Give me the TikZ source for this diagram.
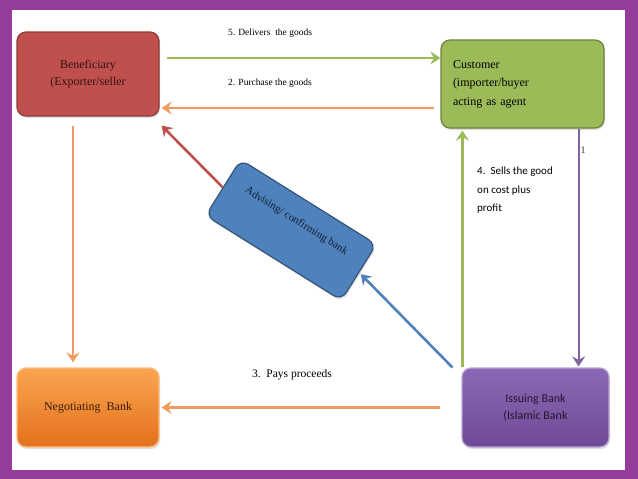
\documentclass[tikz,border=0pt]{standalone}
\usepackage{fontspec}
\setmainfont{Liberation Serif}
\newfontfamily\calib{Carlito}
\usetikzlibrary{arrows.meta,shadows}
\definecolor{slidebg}{RGB}{150,60,155}
\definecolor{benred}{RGB}{192,80,77}
\definecolor{custgreen}{RGB}{155,187,89}
\definecolor{negtop}{RGB}{250,165,80}
\definecolor{negbot}{RGB}{228,112,28}
\definecolor{isstop}{RGB}{140,105,182}
\definecolor{issbot}{RGB}{110,74,150}
\definecolor{advblue}{RGB}{79,129,189}
\definecolor{lineorange}{RGB}{240,155,95}
\definecolor{linegreen}{RGB}{155,187,89}
\definecolor{linered}{RGB}{192,80,77}
\definecolor{lineblue}{RGB}{79,129,189}
\definecolor{linepurple}{RGB}{128,100,162}
\begin{document}
\begin{tikzpicture}[x=1pt, y=-1pt, box/.style={draw, line width=1.2pt, rounded corners=9pt, align=center, font=\fontsize{12}{17}\selectfont, drop shadow={opacity=0.25, shadow xshift=1pt, shadow yshift=-2pt}}, flow/.style={line width=2.6pt, -{Stealth[length=10pt, width=13pt, inset=3.5pt]}}, lbl/.style={font=\fontsize{9.5}{12}\selectfont, inner sep=0pt}]
\useasboundingbox (0,0) rectangle (638,479);
\fill[slidebg] (0,0) rectangle (638,479);
\fill[white] (12,10) rectangle (625,470);
\node[box, fill=benred, draw=benred!75!black, text=benred!25!black, minimum width=142pt, minimum height=84pt] (ben) at (88,74) {Beneficiary\\(Exporter/seller};
\node[box, fill=custgreen, draw=custgreen!70!black, text width=139pt, inner xsep=12pt, align=left, minimum height=88pt, font=\fontsize{12}{18.5}\selectfont] (cust) at (522.5,84) {Customer\\(importer/buyer\\acting as agent};
\node[box, top color=negtop, bottom color=negbot, draw=negtop!70!white, text=negbot!25!black, minimum width=142pt, minimum height=79pt] (neg) at (88,407.5) {Negotiating\ \ Bank};
\node[box, top color=isstop, bottom color=issbot, draw=isstop!60!white, text=issbot!30!black, minimum width=147pt, minimum height=79pt, font=\calib\fontsize{12}{17}\selectfont] (iss) at (535.5,407.5) {Issuing Bank\\(Islamic Bank};
\node[box, fill=advblue, draw=advblue!65!black, text=advblue!25!black, rotate=-32, minimum width=160pt, minimum height=66pt, text depth=23pt, font=\fontsize{11}{13}\selectfont] (adv) at (291,230) {Advising/ confirming bank};
% goods and money
\draw[flow, linegreen, shorten <=7pt] ([yshift=16pt]ben.east) -- ([yshift=26pt]cust.west);
\draw[flow, lineorange, shorten <=6pt, shorten >=2pt] ([yshift=-24pt]cust.west) -- ([yshift=-34pt]ben.east);
\draw[flow, linered] (adv.west) -- ([xshift=2pt, yshift=-9pt]ben.south east);
\draw[flow, lineorange, shorten <=9pt, shorten >=5pt] ([xshift=-15pt]ben.south) -- ([xshift=-15pt]neg.north);
\draw[flow, lineorange, shorten <=21pt, shorten >=2pt] (iss.west) -- (neg.east);
\draw[flow, lineblue, shorten >=2pt] ([xshift=-9pt]iss.north west) -- (adv.east);
\draw[flow, linegreen, shorten >=2pt] ([xshift=1pt]iss.north west) -- ([xshift=22pt]cust.south west);
\draw[flow, linepurple, line width=1.8pt, shorten >=1pt] ([xshift=-26pt]cust.south east) -- node[pos=0.09, right, text=black!80, font=\fontsize{10}{12}\selectfont, inner sep=1pt] (one) {1} ([xshift=-31pt]iss.north east);
% labels
\node[lbl] (l5) at (270,33) {5. Delivers\ \ the goods};
\node[lbl] (l2) at (270,83) {2. Purchase the goods};
\node[lbl, font=\fontsize{11.5}{14}\selectfont] (l3) at (292,375) {3.\ \ Pays proceeds};
\node[lbl, font=\calib\fontsize{11}{18.5}\selectfont, align=left, anchor=north west] (l4) at (477,167) {4.\ \ Sells the good\\on cost plus\\profit};
\end{tikzpicture}
\end{document}
